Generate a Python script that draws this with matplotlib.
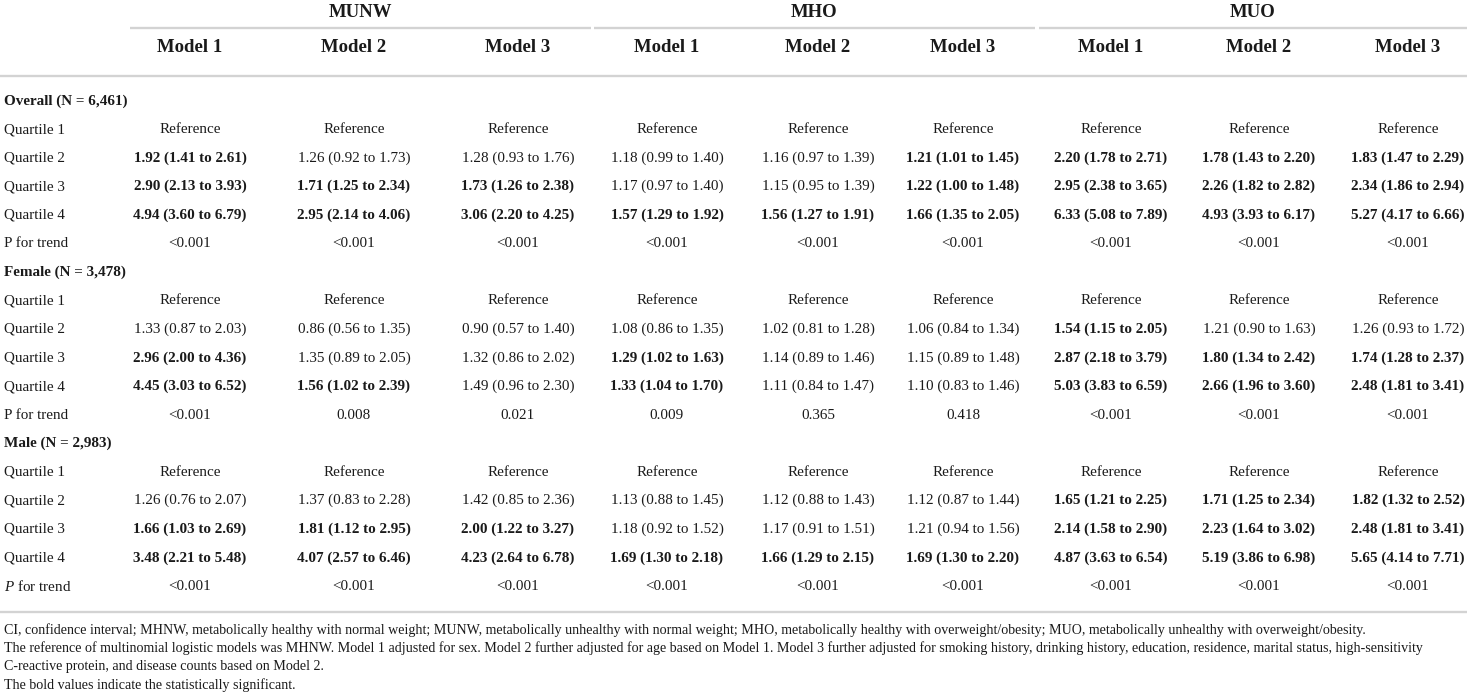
import matplotlib
matplotlib.use("Agg")
import matplotlib.pyplot as plt

plt.rcParams['font.family'] = ['Liberation Serif', 'DejaVu Serif']
plt.rcParams['mathtext.fontset'] = 'custom'
plt.rcParams['mathtext.rm'] = 'Liberation Serif'
plt.rcParams['mathtext.it'] = 'Liberation Serif:italic'

groups = ["MUNW", "MHO", "MUO"]
models = ["Model 1", "Model 2", "Model 3"]
sections = ["Overall (N = 6,461)", "Female (N = 3,478)", "Male (N = 2,983)"]
row_labels = ["Quartile 1", "Quartile 2", "Quartile 3", "Quartile 4", "P for trend"]

overall_vals = [
    ["Reference"] * 9,
    ["1.92 (1.41 to 2.61)", "1.26 (0.92 to 1.73)", "1.28 (0.93 to 1.76)", "1.18 (0.99 to 1.40)", "1.16 (0.97 to 1.39)", "1.21 (1.01 to 1.45)", "2.20 (1.78 to 2.71)", "1.78 (1.43 to 2.20)", "1.83 (1.47 to 2.29)"],
    ["2.90 (2.13 to 3.93)", "1.71 (1.25 to 2.34)", "1.73 (1.26 to 2.38)", "1.17 (0.97 to 1.40)", "1.15 (0.95 to 1.39)", "1.22 (1.00 to 1.48)", "2.95 (2.38 to 3.65)", "2.26 (1.82 to 2.82)", "2.34 (1.86 to 2.94)"],
    ["4.94 (3.60 to 6.79)", "2.95 (2.14 to 4.06)", "3.06 (2.20 to 4.25)", "1.57 (1.29 to 1.92)", "1.56 (1.27 to 1.91)", "1.66 (1.35 to 2.05)", "6.33 (5.08 to 7.89)", "4.93 (3.93 to 6.17)", "5.27 (4.17 to 6.66)"],
    ["<0.001"] * 9,
]
overall_bold = [
    [0] * 9,
    [1, 0, 0, 0, 0, 1, 1, 1, 1],
    [1, 1, 1, 0, 0, 1, 1, 1, 1],
    [1] * 9,
    [0] * 9,
]
female_vals = [
    ["Reference"] * 9,
    ["1.33 (0.87 to 2.03)", "0.86 (0.56 to 1.35)", "0.90 (0.57 to 1.40)", "1.08 (0.86 to 1.35)", "1.02 (0.81 to 1.28)", "1.06 (0.84 to 1.34)", "1.54 (1.15 to 2.05)", "1.21 (0.90 to 1.63)", "1.26 (0.93 to 1.72)"],
    ["2.96 (2.00 to 4.36)", "1.35 (0.89 to 2.05)", "1.32 (0.86 to 2.02)", "1.29 (1.02 to 1.63)", "1.14 (0.89 to 1.46)", "1.15 (0.89 to 1.48)", "2.87 (2.18 to 3.79)", "1.80 (1.34 to 2.42)", "1.74 (1.28 to 2.37)"],
    ["4.45 (3.03 to 6.52)", "1.56 (1.02 to 2.39)", "1.49 (0.96 to 2.30)", "1.33 (1.04 to 1.70)", "1.11 (0.84 to 1.47)", "1.10 (0.83 to 1.46)", "5.03 (3.83 to 6.59)", "2.66 (1.96 to 3.60)", "2.48 (1.81 to 3.41)"],
    ["<0.001", "0.008", "0.021", "0.009", "0.365", "0.418", "<0.001", "<0.001", "<0.001"],
]
female_bold = [
    [0] * 9,
    [0, 0, 0, 0, 0, 0, 1, 0, 0],
    [1, 0, 0, 1, 0, 0, 1, 1, 1],
    [1, 1, 0, 1, 0, 0, 1, 1, 1],
    [0] * 9,
]
male_vals = [
    ["Reference"] * 9,
    ["1.26 (0.76 to 2.07)", "1.37 (0.83 to 2.28)", "1.42 (0.85 to 2.36)", "1.13 (0.88 to 1.45)", "1.12 (0.88 to 1.43)", "1.12 (0.87 to 1.44)", "1.65 (1.21 to 2.25)", "1.71 (1.25 to 2.34)", "1.82 (1.32 to 2.52)"],
    ["1.66 (1.03 to 2.69)", "1.81 (1.12 to 2.95)", "2.00 (1.22 to 3.27)", "1.18 (0.92 to 1.52)", "1.17 (0.91 to 1.51)", "1.21 (0.94 to 1.56)", "2.14 (1.58 to 2.90)", "2.23 (1.64 to 3.02)", "2.48 (1.81 to 3.41)"],
    ["3.48 (2.21 to 5.48)", "4.07 (2.57 to 6.46)", "4.23 (2.64 to 6.78)", "1.69 (1.30 to 2.18)", "1.66 (1.29 to 2.15)", "1.69 (1.30 to 2.20)", "4.87 (3.63 to 6.54)", "5.19 (3.86 to 6.98)", "5.65 (4.14 to 7.71)"],
    ["<0.001"] * 9,
]
male_bold = [
    [0] * 9,
    [0, 0, 0, 0, 0, 0, 1, 1, 1],
    [1, 1, 1, 0, 0, 0, 1, 1, 1],
    [1] * 9,
    [0] * 9,
]
section_vals = [overall_vals, female_vals, male_vals]
section_bold = [overall_bold, female_bold, male_bold]
italic_p = [False, False, True]

footnotes = [
    "CI, confidence interval; MHNW, metabolically healthy with normal weight; MUNW, metabolically unhealthy with normal weight; MHO, metabolically healthy with overweight/obesity; MUO, metabolically unhealthy with overweight/obesity.",
    "The reference of multinomial logistic models was MHNW. Model 1 adjusted for sex. Model 2 further adjusted for age based on Model 1. Model 3 further adjusted for smoking history, drinking history, education, residence, marital status, high-sensitivity",
    "C-reactive protein, and disease counts based on Model 2.",
    "The bold values indicate the statistically significant.",
]

# ---- layout (pixel coordinates) ----
W, H = 1469, 700
fig = plt.figure(figsize=(W / 100, H / 100), dpi=100)
ax = fig.add_axes([0, 0, 1, 1])
ax.set_xlim(0, W)
ax.set_ylim(H, 0)
ax.axis("off")

col_x = [190, 354, 518, 667, 818, 963, 1111, 1259, 1408]
group_spans = [(130, 591), (594, 1035), (1039, 1467)]
line_col = "#d3d3d3"
txt_col = "#1a1a1a"
body_fs = 10.9
head_fs = 13.5

# header
for g, (x0, x1) in zip(groups, group_spans):
    ax.text((x0 + x1) / 2, 12.5, g, ha="center", va="center", fontsize=head_fs,
            fontweight="bold", color=txt_col)
    ax.plot([x0, x1], [28, 28], color=line_col, lw=1.7, solid_capstyle="butt")
for i, x in enumerate(col_x):
    ax.text(x, 47, models[i % 3], ha="center", va="center", fontsize=head_fs,
            fontweight="bold", color=txt_col)
ax.plot([0, 1467], [76, 76], color=line_col, lw=1.7, solid_capstyle="butt")

# body
y0 = 101
step = 28.55
y = y0
for s, sec in enumerate(sections):
    ax.text(4, y, sec, ha="left", va="center", fontsize=body_fs, fontweight="bold", color=txt_col)
    y += step
    vals = section_vals[s]
    bolds = section_bold[s]
    for r, lab in enumerate(row_labels):
        if r == 4 and italic_p[s]:
            ax.text(4, y, "$\\mathit{P}$ for trend", ha="left", va="center", fontsize=body_fs, color=txt_col)
        else:
            ax.text(4, y, lab, ha="left", va="center", fontsize=body_fs, color=txt_col)
        for c, x in enumerate(col_x):
            ax.text(x, y, vals[r][c], ha="center", va="center", fontsize=body_fs,
                    fontweight="bold" if bolds[r][c] else "normal", color=txt_col)
        y += step

ax.plot([0, 1467], [612, 612], color=line_col, lw=1.7, solid_capstyle="butt")

fy = 630
for line in footnotes:
    ax.text(4, fy, line, ha="left", va="center", fontsize=10.1, color=txt_col)
    fy += 18.3

fig.savefig("out.png", dpi=100, facecolor="white")
